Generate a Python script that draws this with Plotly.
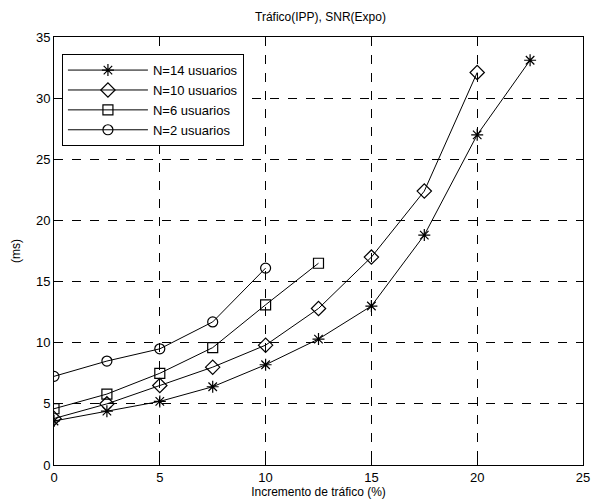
import plotly.graph_objects as go

x14 = [0, 2.5, 5, 7.5, 10, 12.5, 15, 17.5, 20, 22.5]
y14 = [3.6, 4.4, 5.2, 6.4, 8.2, 10.3, 13.0, 18.8, 27.0, 33.1]
x10 = [0, 2.5, 5, 7.5, 10, 12.5, 15, 17.5, 20]
y10 = [3.8, 5.0, 6.5, 8.0, 9.8, 12.8, 17.0, 22.4, 32.1]
x6 = [0, 2.5, 5, 7.5, 10, 12.5]
y6 = [4.6, 5.8, 7.5, 9.6, 13.1, 16.5]
x2 = [0, 2.5, 5, 7.5, 10]
y2 = [7.25, 8.5, 9.5, 11.7, 16.1]
names = ["N=14 usuarios", "N=10 usuarios", "N=6 usuarios", "N=2 usuarios"]
symbols = ["asterisk-open", "diamond-open", "square-open", "circle-open"]
sizes = [10, 11, 10, 10]

fig = go.Figure()
for xs, ys, nm, sym, sz in zip([x14, x10, x6, x2], [y14, y10, y6, y2], names, symbols, sizes):
    fig.add_trace(go.Scatter(
        x=xs, y=ys, name=nm, mode="lines+markers",
        line=dict(color="black", width=1),
        marker=dict(symbol=sym, size=sz, color="black", line=dict(color="black", width=1.2)),
    ))

axis_common = dict(
    showgrid=True, gridcolor="black", griddash="dash", gridwidth=1,
    showline=True, linecolor="black", linewidth=1, mirror="ticks",
    ticks="inside", ticklen=5, tickcolor="black", zeroline=False,
    tickfont=dict(family="Liberation Sans, Arial", size=13, color="black"),
)

fig.update_layout(
    width=599, height=504,
    paper_bgcolor="white", plot_bgcolor="white",
    margin=dict(l=54, r=9, t=37, b=35),
    title=dict(text="Tráfico(IPP), SNR(Expo)", x=0.535, xanchor="center", y=0.975, yanchor="top",
               font=dict(family="Liberation Sans, Arial", size=12, color="black")),
    xaxis=dict(range=[0, 25], tickvals=[0, 5, 10, 15, 20, 25],
               title=dict(text="Incremento de tráfico (%)", standoff=2,
                          font=dict(family="Liberation Sans, Arial", size=12, color="black")),
               **axis_common),
    yaxis=dict(range=[0, 35], tickvals=[0, 5, 10, 15, 20, 25, 30, 35],
               title=dict(text="(ms)", standoff=12,
                          font=dict(family="Liberation Sans, Arial", size=12, color="black")),
               **axis_common),
    legend=dict(x=0.015, y=0.96, xanchor="left", yanchor="top",
                bgcolor="white", bordercolor="black", borderwidth=1,
                font=dict(family="Liberation Sans, Arial", size=13, color="black"),
                tracegroupgap=0, itemwidth=80),
    showlegend=True,
)

fig.write_html("out.html")
